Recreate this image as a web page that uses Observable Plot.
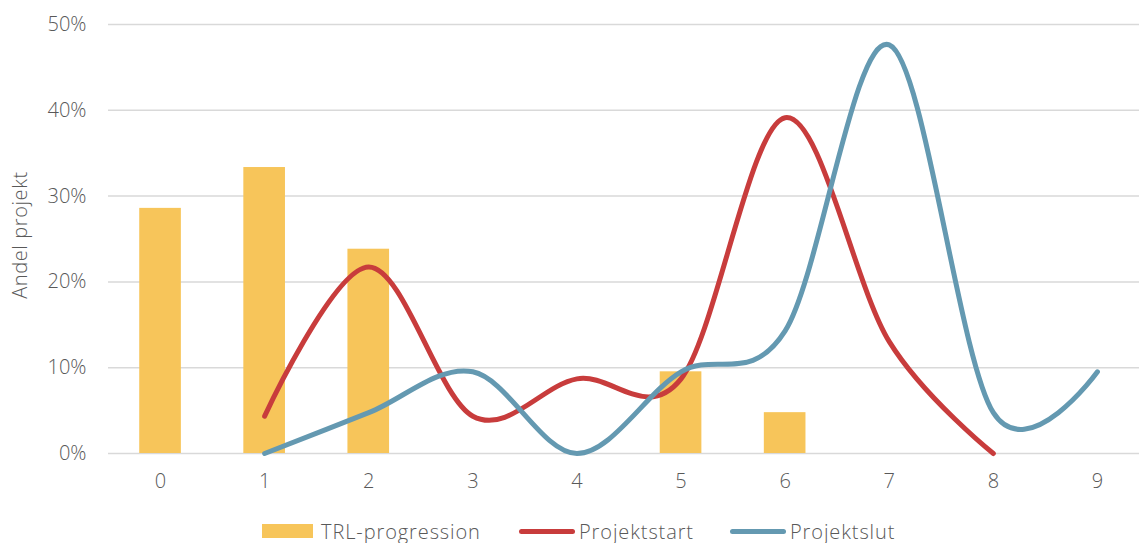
<!DOCTYPE html>
<html>
<head>
<meta charset="utf-8">
<script src="https://cdn.jsdelivr.net/npm/d3@7"></script>
<script src="https://cdn.jsdelivr.net/npm/@observablehq/plot@0.6"></script>
<style>
  html, body { margin: 0; padding: 0; background: #fff; }
  body { width: 1139px; height: 543px; overflow: hidden; font-family: "Open Sans", "Noto Sans", sans-serif; font-weight: 300; }
  #legend { position: relative; height: 38px; width: 1139px; color: #595959; font-size: 20px; font-weight: 300; letter-spacing: 0.9px; }
  .item { position: absolute; top: 13px; display: flex; align-items: center; height: 26px; }
  .sw-bar { width: 51px; height: 14px; margin-right: 8px; }
  .sw-line { width: 56px; height: 5px; border-radius: 3px; margin-right: 4px; }
</style>
</head>
<body>
<div id="chart"></div>
<div id="legend"></div>
<script>
const categories = ["0", "1", "2", "3", "4", "5", "6", "7", "8", "9"];
const trlValues = [0.2857, 0.3333, 0.2381, 0, 0, 0.0952, 0.0476, 0, 0, 0];
const startCategories = ["1", "2", "3", "4", "5", "6", "7", "8"];
const startValues = [0.0435, 0.2174, 0.0435, 0.0870, 0.0870, 0.3913, 0.1304, 0];
const slutCategories = ["1", "2", "3", "4", "5", "6", "7", "8", "9"];
const slutValues = [0, 0.0476, 0.0952, 0, 0.0952, 0.1429, 0.4762, 0.0476, 0.0952];
const yTicks = [0, 0.1, 0.2, 0.3, 0.4, 0.5];
const yLabel = "Andel projekt";
const seriesNames = ["TRL-progression", "Projektstart", "Projektslut"];
const colors = ["#F7C55A", "#C83C3C", "#6499B1"];

const trl = categories.map((c, i) => ({cat: c, v: trlValues[i]})).filter(d => d.v > 0);
const start = startCategories.map((c, i) => ({cat: c, v: startValues[i]}));
const slut = slutCategories.map((c, i) => ({cat: c, v: slutValues[i]}));

const chart = Plot.plot({
  width: 1139,
  height: 505,
  marginTop: 24,
  marginBottom: 52,
  marginLeft: 108,
  marginRight: 0,
  style: {fontFamily: '"Open Sans", "Noto Sans", sans-serif', fontWeight: 300, fontSize: "20px", color: "#595959", background: "#fff"},
  x: {domain: categories, range: [108, 1149], round: false, paddingInner: 0.6, paddingOuter: 0.3, label: null, tickSize: 0, tickPadding: 20},
  y: {domain: [0, 0.5], ticks: yTicks, tickFormat: d3.format(".0%"), tickSize: 0, tickPadding: 22, label: null},
  marks: [
    Plot.gridY(yTicks, {stroke: "#d9d9d9", strokeOpacity: 1, strokeWidth: 1.5}),
    Plot.text([yLabel], {frameAnchor: "left", textAnchor: "middle", rotate: -90, dx: -88, dy: -4, fill: "#595959", fontSize: 20, style: "letter-spacing: 0.6px"}),
    Plot.barY(trl, {x: "cat", y: "v", fill: colors[0]}),
    Plot.line(start, {x: "cat", y: "v", stroke: colors[1], strokeWidth: 5, curve: "cardinal", strokeLinecap: "round"}),
    Plot.line(slut, {x: "cat", y: "v", stroke: colors[2], strokeWidth: 5, curve: "cardinal", strokeLinecap: "round"})
  ]
});
chart.querySelectorAll("text").forEach(t => { if (t.textContent === yLabel) t.style.letterSpacing = "0.6px"; });
document.getElementById("chart").appendChild(chart);

const legend = document.getElementById("legend");
const lefts = [262, 519, 730];
seriesNames.forEach((name, i) => {
  const item = document.createElement("div");
  item.className = "item";
  item.style.left = lefts[i] + "px";
  const sw = document.createElement("div");
  sw.className = i === 0 ? "sw-bar" : "sw-line";
  sw.style.background = colors[i];
  const t = document.createElement("span");
  t.textContent = name;
  item.appendChild(sw);
  item.appendChild(t);
  legend.appendChild(item);
});
</script>
</body>
</html>
